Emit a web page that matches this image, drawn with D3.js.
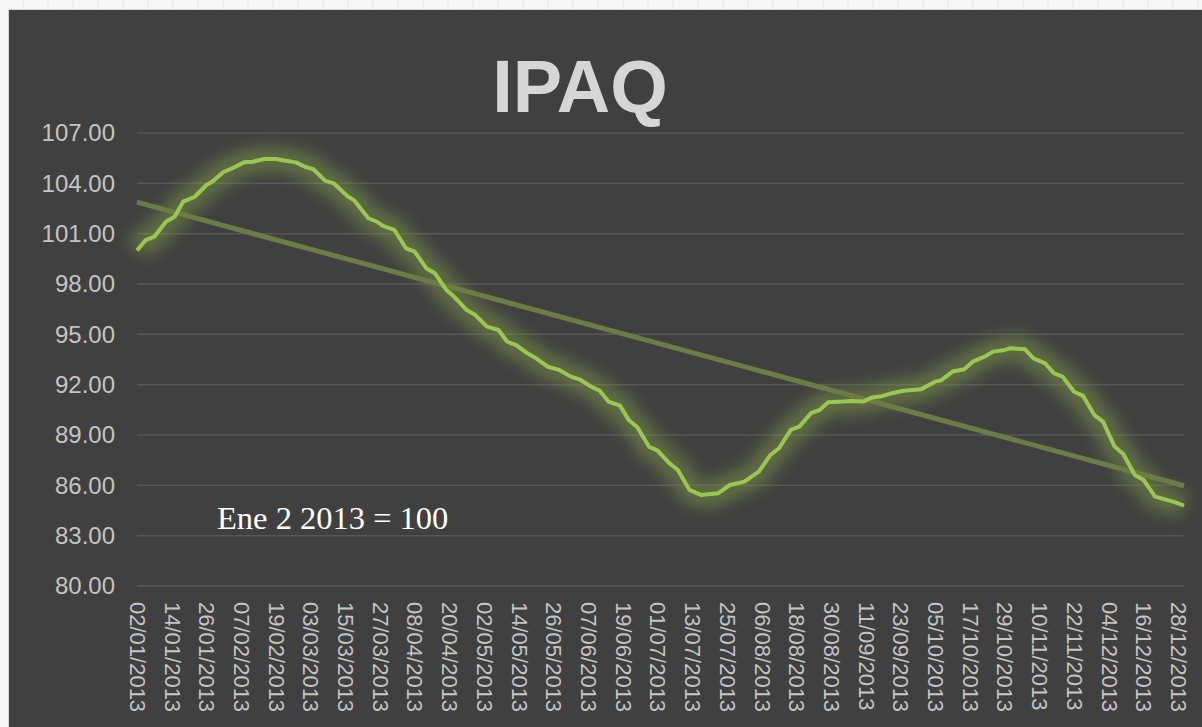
<!DOCTYPE html>
<html>
<head>
<meta charset="utf-8">
<script src="https://cdn.jsdelivr.net/npm/d3@7"></script>
<style>
    body { margin: 0; background: #f7f7f7; }
    svg { display: block; }
</style>
</head>
<body>
<div id="chart"></div>
<script>
// IPAQ daily index (Ene 2 2013 = 100)
const dates = [
    "02/01/2013", "05/01/2013", "08/01/2013", "12/01/2013", "15/01/2013", "18/01/2013",
    "22/01/2013", "26/01/2013", "28/01/2013", "01/02/2013", "04/02/2013", "08/02/2013",
    "11/02/2013", "15/02/2013", "19/02/2013", "23/02/2013", "26/02/2013", "01/03/2013",
    "04/03/2013", "08/03/2013", "11/03/2013", "16/03/2013", "18/03/2013", "23/03/2013",
    "26/03/2013", "28/03/2013", "01/04/2013", "05/04/2013", "08/04/2013", "12/04/2013",
    "15/04/2013", "19/04/2013", "21/04/2013", "26/04/2013", "29/04/2013", "03/05/2013",
    "07/05/2013", "10/05/2013", "13/05/2013", "17/05/2013", "20/05/2013", "24/05/2013",
    "28/05/2013", "01/06/2013", "04/06/2013", "08/06/2013", "11/06/2013", "14/06/2013",
    "18/06/2013", "21/06/2013", "24/06/2013", "28/06/2013", "01/07/2013", "05/07/2013",
    "08/07/2013", "12/07/2013", "16/07/2013", "22/07/2013", "26/07/2013", "31/07/2013",
    "05/08/2013", "09/08/2013", "12/08/2013", "16/08/2013", "19/08/2013", "23/08/2013",
    "26/08/2013", "29/08/2013", "03/09/2013", "06/09/2013", "10/09/2013", "13/09/2013",
    "16/09/2013", "20/09/2013", "24/09/2013", "30/09/2013", "05/10/2013", "07/10/2013",
    "11/10/2013", "15/10/2013", "18/10/2013", "22/10/2013", "25/10/2013", "29/10/2013",
    "31/10/2013", "05/11/2013", "08/11/2013", "12/11/2013", "15/11/2013", "18/11/2013",
    "22/11/2013", "25/11/2013", "29/11/2013", "02/12/2013", "06/12/2013", "09/12/2013",
    "13/12/2013", "16/12/2013", "20/12/2013", "24/12/2013", "27/12/2013", "30/12/2013"
];

const values = [
    100.00, 100.62, 100.82, 101.71, 102.01, 102.91,
    103.20, 103.90, 104.10, 104.69, 104.90, 105.25,
    105.29, 105.45, 105.45, 105.33, 105.25, 104.99,
    104.84, 104.16, 104.00, 103.20, 103.00, 101.92,
    101.71, 101.46, 101.22, 100.13, 99.93, 98.94,
    98.64, 97.64, 97.35, 96.45, 96.15, 95.46,
    95.26, 94.56, 94.37, 93.87, 93.57, 93.07,
    92.88, 92.48, 92.32, 91.88, 91.64, 90.99,
    90.75, 89.90, 89.46, 88.31, 88.07, 87.32,
    86.92, 85.73, 85.43, 85.53, 86.02, 86.22,
    86.82, 87.81, 88.21, 89.30, 89.50, 90.30,
    90.49, 90.95, 90.99, 91.03, 90.99, 91.23,
    91.29, 91.49, 91.64, 91.72, 92.18, 92.26,
    92.78, 92.92, 93.37, 93.67, 93.97, 94.07,
    94.17, 94.11, 93.57, 93.27, 92.68, 92.48,
    91.58, 91.35, 90.19, 89.80, 88.31, 87.87,
    86.62, 86.32, 85.33, 85.13, 84.99, 84.79
];

const yTicks = [80, 83, 86, 89, 92, 95, 98, 101, 104, 107];

const xTickLabels = [
    "02/01/2013", "14/01/2013", "26/01/2013", "07/02/2013", "19/02/2013", "03/03/2013",
    "15/03/2013", "27/03/2013", "08/04/2013", "20/04/2013", "02/05/2013", "14/05/2013",
    "26/05/2013", "07/06/2013", "19/06/2013", "01/07/2013", "13/07/2013", "25/07/2013",
    "06/08/2013", "18/08/2013", "30/08/2013", "11/09/2013", "23/09/2013", "05/10/2013",
    "17/10/2013", "29/10/2013", "10/11/2013", "22/11/2013", "04/12/2013", "16/12/2013",
    "28/12/2013"
];

function drawChart() {
    const width = 1202;
    const height = 727;
    const plot = { left: 137, right: 1184, top: 133, bottom: 586 };

    const parse = d3.timeParse("%d/%m/%Y");
    const data = dates.map((d, i) => ({ date: parse(d), value: values[i] }));

    const svg = d3.select('#chart')
        .append('svg')
        .attr('width', width)
        .attr('height', height);

    // spreadsheet backdrop
    svg.append('rect')
        .attr('width', width)
        .attr('height', height)
        .style('fill', '#f7f7f7');

    svg.append('g')
        .selectAll('line')
        .data(d3.range(23, width, 25))
        .join('line')
        .attr('x1', d => d).attr('x2', d => d)
        .attr('y1', 0).attr('y2', 9)
        .style('stroke', '#e6e6e6')
        .style('stroke-width', 1);

    // chart area
    svg.append('rect')
        .attr('x', 8.5)
        .attr('y', 9.5)
        .attr('width', width)
        .attr('height', height)
        .style('fill', '#404040')
        .style('stroke', '#d4d4d4')
        .style('stroke-width', 1);

    const x = d3.scaleTime()
        .domain([parse("02/01/2013"), parse("30/12/2013")])
        .range([plot.left, plot.right]);

    const y = d3.scaleLinear()
        .domain([80, 107])
        .range([plot.bottom, plot.top]);

    // Gridlines
    svg.append('g')
        .selectAll('line')
        .data(yTicks)
        .join('line')
        .attr('x1', plot.left)
        .attr('x2', plot.right)
        .attr('y1', d => y(d))
        .attr('y2', d => y(d))
        .style('stroke', '#575757')
        .style('stroke-width', 1.5);

    // Y axis labels
    const yAxis = d3.axisLeft(y)
        .tickValues(yTicks)
        .tickFormat(d3.format('.2f'))
        .tickSize(0)
        .tickPadding(22);

    const yg = svg.append('g')
        .attr('transform', `translate(${plot.left},0)`)
        .call(yAxis);
    yg.select('.domain').remove();
    yg.selectAll('text')
        .style('font-family', '"Liberation Sans", Arial, sans-serif')
        .style('font-size', '24px')
        .style('fill', '#c4c4c4');

    // X axis labels, rotated to read downward
    const xAxis = d3.axisBottom(x)
        .tickValues(xTickLabels.map(parse))
        .tickFormat(d3.timeFormat("%d/%m/%Y"))
        .tickSize(0);

    const xg = svg.append('g')
        .attr('transform', `translate(0,${plot.bottom})`)
        .call(xAxis);
    xg.select('.domain').remove();
    xg.selectAll('text')
        .attr('transform', 'translate(0,16) rotate(90)')
        .attr('x', 0)
        .attr('y', 0)
        .attr('dy', '0.35em')
        .style('text-anchor', 'start')
        .style('font-family', '"Liberation Sans", Arial, sans-serif')
        .style('font-size', '22px')
        .style('fill', '#c4c4c4');

    // Linear trend (least squares over the series)
    const t0 = data[0].date;
    const pts = data.map(d => [(d.date - t0) / 864e5, d.value]);
    const mx = d3.mean(pts, p => p[0]);
    const my = d3.mean(pts, p => p[1]);
    const slope = d3.sum(pts, p => (p[0] - mx) * (p[1] - my)) / d3.sum(pts, p => (p[0] - mx) ** 2);
    const intercept = my - slope * mx;
    const trendAt = dt => intercept + slope * ((dt - t0) / 864e5);
    const trend = x.domain().map(dt => ({ date: dt, value: trendAt(dt) }));

    const line = d3.line()
        .x(d => x(d.date))
        .y(d => y(d.value));

    // Glow under the series
    const defs = svg.append('defs');
    defs.append('filter')
        .attr('id', 'glow')
        .attr('x', '-10%').attr('y', '-20%')
        .attr('width', '120%').attr('height', '140%')
        .append('feGaussianBlur')
        .attr('stdDeviation', 8);

    svg.append('path')
        .datum(data)
        .attr('d', line)
        .attr('filter', 'url(#glow)')
        .style('fill', 'none')
        .style('stroke', '#7f9c48')
        .style('stroke-opacity', 0.5)
        .style('stroke-width', 26)
        .style('stroke-linejoin', 'round');

    svg.append('path')
        .datum(trend)
        .attr('d', line)
        .style('fill', 'none')
        .style('stroke', '#6b7d44')
        .style('stroke-width', 5);

    svg.append('path')
        .datum(data)
        .attr('d', line)
        .style('fill', 'none')
        .style('stroke', '#9bc650')
        .style('stroke-width', 4)
        .style('stroke-linejoin', 'round');

    // Title
    svg.append('text')
        .attr('x', 580)
        .attr('y', 112)
        .attr('text-anchor', 'middle')
        .style('font-family', '"Liberation Sans", Arial, sans-serif')
        .style('font-weight', 'bold')
        .style('font-size', '74px')
        .style('fill', '#d6d6d6')
        .text('IPAQ');

    // Base note
    svg.append('text')
        .attr('x', 217)
        .attr('y', 529)
        .style('font-family', '"Liberation Serif", "DejaVu Serif", serif')
        .style('font-size', '32.5px')
        .style('fill', '#ffffff')
        .text('Ene 2 2013 = 100');
}

window.addEventListener('load', drawChart);
</script>
</body>
</html>
